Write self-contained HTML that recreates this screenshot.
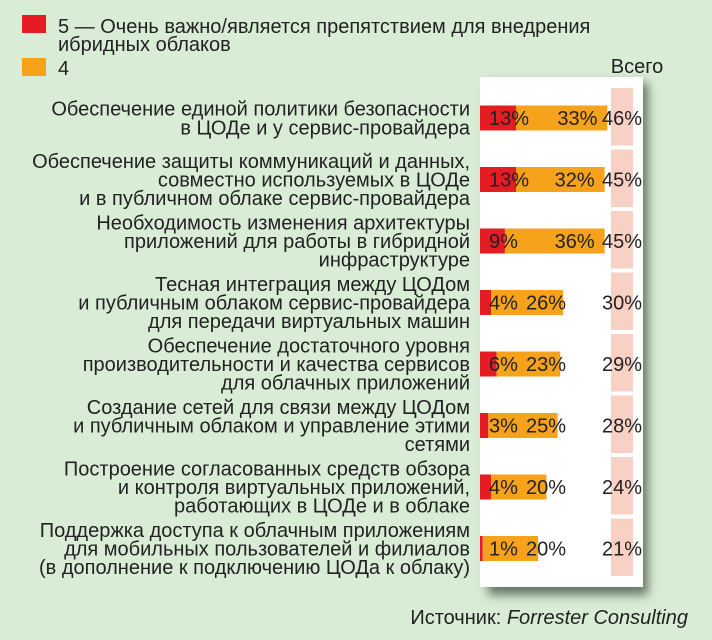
<!DOCTYPE html>
<html><head><meta charset="utf-8"><style>
body{margin:0;background:#d9ecd6;}
svg{display:block;font-family:"Liberation Sans",sans-serif;}
</style></head><body>
<svg width="712" height="640" viewBox="0 0 712 640">
<defs><filter id="sh" x="-20%" y="-10%" width="150%" height="120%"><feGaussianBlur stdDeviation="5"/></filter></defs>
<rect width="712" height="640" fill="#d9ecd6"/>
<rect x="22" y="15" width="24" height="18" fill="#e51c24"/>
<text x="58" y="33" font-size="20" fill="#222">5 — Очень важно/является препятствием для внедрения</text>
<text x="58" y="51" font-size="20" fill="#222">ибридных облаков</text>
<rect x="22" y="58" width="24" height="18" fill="#f7a21b"/>
<text x="58" y="75" font-size="20" fill="#222">4</text>
<rect x="488" y="83" width="160" height="512" fill="#4f6150" filter="url(#sh)" opacity="0.85"/>
<rect x="480" y="77" width="163" height="510" fill="#fff"/>
<text x="637" y="73" font-size="20" fill="#222" text-anchor="middle">Всего</text>
<g id="rows"></g>
<text x="688" y="624" font-size="20" fill="#222" text-anchor="end">Источник: <tspan font-style="italic">Forrester Consulting</tspan></text>
</svg>
<script>
const categories=[
["Обеспечение единой политики безопасности","в ЦОДе и у сервис-провайдера"],
["Обеспечение защиты коммуникаций и данных,","совместно используемых в ЦОДе","и в публичном облаке сервис-провайдера"],
["Необходимость изменения архитектуры","приложений для работы в гибридной","инфраструктуре"],
["Тесная интеграция между ЦОДом","и публичным облаком сервис-провайдера","для передачи виртуальных машин"],
["Обеспечение достаточного уровня","производительности и качества сервисов","для облачных приложений"],
["Создание сетей для связи между ЦОДом","и публичным облаком и управление этими","сетями"],
["Построение согласованных средств обзора","и контроля виртуальных приложений,","работающих в ЦОДе и в облаке"],
["Поддержка доступа к облачным приложениям","для мобильных пользователей и филиалов","(в дополнение к подключению ЦОДа к облаку)"]
];
const val5=[13,13,9,4,6,3,4,1];
const val4=[33,32,36,26,23,25,20,20];
const totals=[46,45,45,30,29,28,24,21];
const NS="http://www.w3.org/2000/svg";
const rowsG=document.getElementById('rows');
const x0=480, k=2.77, rowTop=87, step=61.5, bh=25;
const xs=v=>x0+v*k;
const yc=i=>rowTop+31+i*step;
function mk(t,a){const e=document.createElementNS(NS,t);for(const n in a)e.setAttribute(n,a[n]);rowsG.appendChild(e);return e;}
categories.forEach((lines,i)=>{
  const c=yc(i);
  const seg=mk('rect',{x:611,y:c-30,width:22,height:step-4,fill:'#f9d0c4'});
  
  
  lines.forEach((ln,j)=>{
    const t=mk('text',{x:470,y:c+(j-(lines.length-1)/2)*18.7+7,'font-size':20,fill:'#222','text-anchor':'end'});
    t.textContent=ln;
    
    
  });
  const r5=mk('rect',{x:xs(0),y:c-bh/2,width:xs(val5[i])-xs(0),height:bh,fill:'#e51c24'});
  
  
  const r4=mk('rect',{x:xs(val5[i]),y:c-bh/2,width:xs(val5[i]+val4[i])-xs(val5[i]),height:bh,fill:'#f7a21b'});
  
  
  const l5=mk('text',{x:489,y:c+7,'font-size':20,fill:'#222'});
  l5.textContent=val5[i]+'%';
  
  
  const w5=String(val5[i]).length*11+18;
  let end=xs(val5[i]+val4[i])-10;
  const minEnd=489+w5+8+40;
  if(end<minEnd)end=minEnd;
  const l4=mk('text',{x:end,y:c+7,'font-size':20,fill:'#222','text-anchor':'end'});
  l4.textContent=val4[i]+'%';
  
  
  const lt=mk('text',{x:622,y:c+7,'font-size':20,fill:'#222','text-anchor':'middle'});
  lt.textContent=totals[i]+'%';
  
  
});
</script>
</body></html>
